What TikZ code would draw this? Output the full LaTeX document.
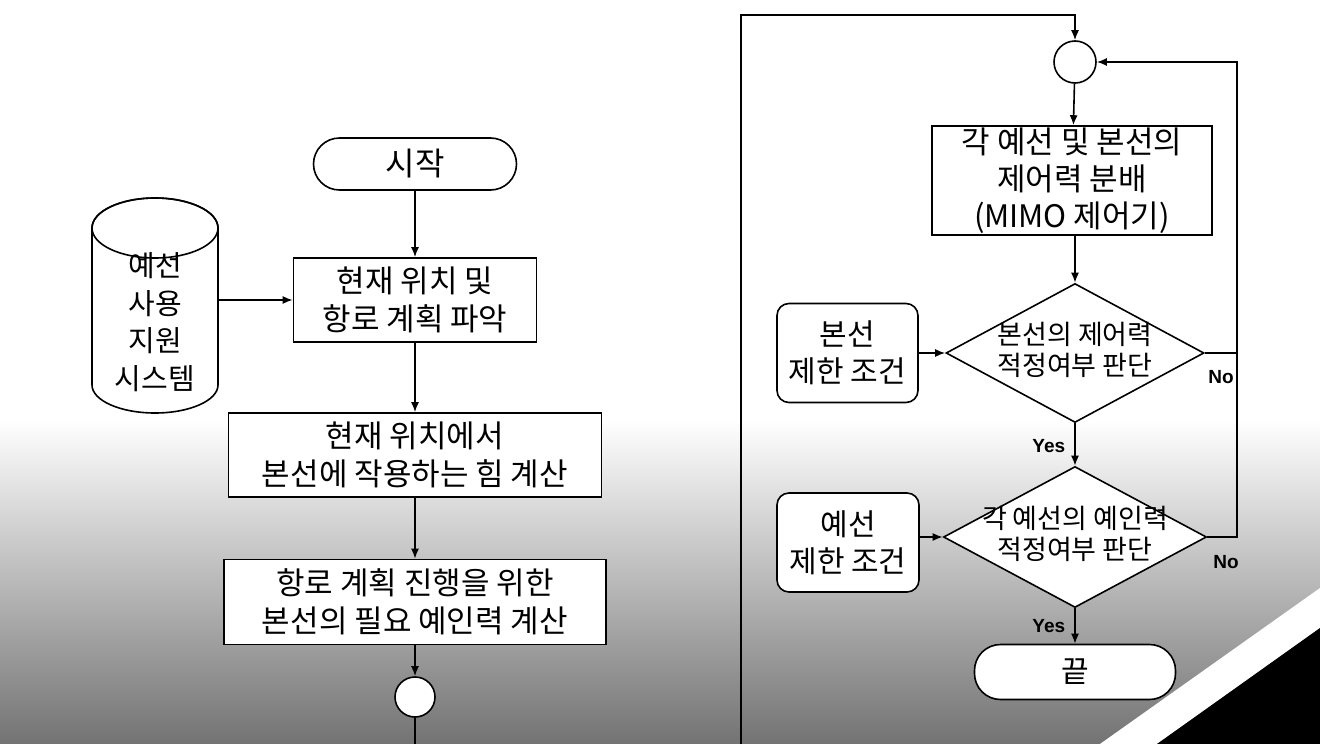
\documentclass[tikz,border=0pt]{standalone}
\usepackage{fontspec}
\setmainfont{Noto Sans CJK KR}
\newfontfamily\lat{Liberation Sans}
\usetikzlibrary{arrows.meta,shapes.geometric}
\begin{document}
\begin{tikzpicture}[x=1pt,y=1pt,
  line width=1.6pt,
  >={Latex[length=10pt,width=8pt]},
  proc/.style={draw, fill=white, inner sep=0pt, align=center, font=\fontsize{31}{38}\selectfont},
  term/.style={draw, fill=white, rounded corners=26pt, inner sep=0pt, font=\fontsize{32}{38}\selectfont},
  cond/.style={draw, fill=white, rounded corners=12pt, inner sep=0pt, align=center, font=\fontsize{30}{37}\selectfont},
  dec/.style={draw, fill=white, diamond, inner sep=0pt, font=\fontsize{27}{30}\selectfont},
  junc/.style={draw, fill=white, circle, inner sep=0pt},
  lbl/.style={font=\lat\bfseries\fontsize{19}{22}\selectfont, inner sep=0pt},
]
\useasboundingbox (0,0) rectangle (1320,-744);
% background (scan shading)
\fill[white] (0,0) rectangle (1320,-744);
\shade[top color=white, bottom color=black!55] (0,-420) rectangle (1320,-744);
\fill[white] (1100,-744) -- (1320,-588) -- (1320,-628) -- (1157,-744) -- cycle;
\fill[black] (1157,-744) -- (1320,-628) -- (1320,-744) -- cycle;

% left column
\node[term, minimum width=203pt, minimum height=52pt] (s) at (415,-164) {시작};
\node[proc, minimum width=243pt, minimum height=84pt] (b1) at (415,-300) {현재 위치 및\\항로 계획 파악};
\node[proc, minimum width=373pt, minimum height=84pt] (b2) at (415,-455) {현재 위치에서\\본선에 작용하는 힘 계산};
\node[proc, minimum width=382pt, minimum height=85pt] (b3) at (415,-602) {항로 계획 진행을 위한\\본선의 필요 예인력 계산};
\node[junc, minimum size=40pt] (c1) at (415,-697) {};
\coordinate (lend) at (415,-744);

% cylinder
\draw[fill=white] (92,-228) -- (92,-385) arc[start angle=180, end angle=360, x radius=63pt, y radius=28pt] -- (218,-228) arc[start angle=0, end angle=180, x radius=63pt, y radius=30pt];
\draw (155,-228) ellipse[x radius=63pt, y radius=30pt];
\node[minimum width=126pt, minimum height=160pt, inner sep=0pt, align=center, font=\fontsize{29}{37.5}\selectfont] (cyl) at (155,-322) {예선\\사용\\지원\\시스템};

\draw[->] (s) -- (b1);
\draw[->] (b1) -- (b2);
\draw[->] (b2) -- (b3);
\draw[->] (b3) -- (c1);
\draw (c1) -- (lend);
\draw[->] (cyl.east |- b1.west) -- (b1.west);

% right column
\node[junc, minimum size=42pt] (c2) at (1075,-62) {};
\node[proc, minimum width=280pt, minimum height=109pt, font=\fontsize{31}{37}\selectfont] (m) at (1072,-180.5) {각 예선 및 본선의\\제어력 분배\\(MIMO 제어기)};
\node[dec, minimum width=258pt, minimum height=139pt] (d1) at (1075,-353) {\makebox[0pt]{\begin{tabular}{@{}c@{}}본선의 제어력\\적정여부 판단\end{tabular}}};
\node[cond, minimum width=141pt, minimum height=99pt] (k1) at (847.5,-353) {본선\\제한 조건};
\node[dec, minimum width=263pt, minimum height=141pt] (d2) at (1075,-537) {\makebox[0pt]{\begin{tabular}{@{}c@{}}각 예선의 예인력\\적정여부 판단\end{tabular}}};
\node[cond, minimum width=142pt, minimum height=99pt] (k2) at (848,-542.5) {예선\\제한 조건};
\node[term, minimum width=201pt, minimum height=55pt, font=\fontsize{30}{36}\selectfont] (e) at (1075,-672) {끝};

\coordinate (rbot) at (741,-744);
\coordinate (rtop) at (1075,-15);
\coordinate (rx) at (1237,-62);

\draw[->] (rbot) |- (rtop) -- (c2);
\draw[->] (c2) -- (m);
\draw[->] (m.south -| d1.north) -- (d1.north);
\draw[->] (d1) -- node[lbl, anchor=east, xshift=-9pt, yshift=-2pt] (y1) {Yes} (d2);
\draw[->] (d2) -- node[lbl, anchor=east, xshift=-9pt] (y2) {Yes} (e);
\draw[->] (k1) -- (d1);
\draw[->] (k2.east |- d2.west) -- (d2.west);
\draw[->] (d1.east) -| (rx) -- (c2);
\draw (d2.east) -| (d1.east -| rx);
\node[lbl] (n1) at (1221,-377) {No};
\node[lbl] (n2) at (1226,-562) {No};
\end{tikzpicture}
\end{document}
